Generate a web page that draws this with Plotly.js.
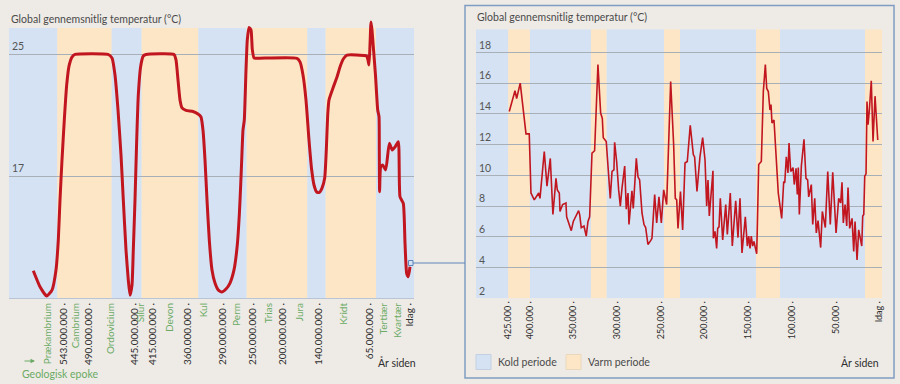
<!DOCTYPE html>
<html>
<head>
<meta charset="utf-8">
<script src="https://cdn.plot.ly/plotly-3.0.1.min.js"></script>
<style>
html,body{margin:0;padding:0;background:#EEEBE6;}
#chart{width:900px;height:384px;}
</style>
</head>
<body>
<div id="chart"></div>
<script>
// ---------- LEFT PANEL: geological time (ordinal position along axis) ----------
const leftPos = [33.3,40,46.7,52,56,58.3,60,62,64.3,66.7,69,72,75,108,112,115,118,121,123.3,126,128.3,130,132,133.3,135,136.7,138.3,140.7,143.3,146,174,176,178,180,182,186,193,198,201,203,205,207,209.3,212,215,218.3,221.7,226,230,234,237.3,239.3,240.7,241.7,243,244.3,246,247.3,249,251,252.3,254,256,297,300,303,306,309,311.7,314,316.7,319.3,322,324.7,326.3,327.7,329,333,337,340,343.3,347,364,366.7,368,369,370,371,372,373.3,375.5,377.7,379,379.3,379.6,380.7,382.7,385.7,389.3,392.3,395,398.3,400,403.3,405,406.7,408.3,410];
const leftTemp = [10.79,9.74,9.13,9.52,10.84,12.8,15.43,18.05,20.67,22.97,24.2,24.8,24.97,24.97,24.74,23.62,21.33,18.38,15.43,12.15,10.18,9.18,9.85,12.15,15.43,19.36,22.3,24.2,24.87,24.97,24.97,24.61,23.3,21.98,21.46,21.3,21.23,21.07,20.87,20.0,18.05,15.43,12.8,10.84,9.98,9.52,9.39,9.59,9.98,10.84,12.48,14.44,16.41,18.05,20.02,20.67,23.95,25.92,26.74,26.57,25.3,24.74,24.72,24.72,24.48,23.62,21.98,19.36,17.39,16.41,15.95,15.92,16.21,16.87,18.7,21.0,21.98,22.77,23.49,24.15,24.67,24.93,24.9,24.87,24.6,24.28,25.6,27.1,26.57,25.48,23.6,21.33,20.9,18.7,15.97,17.6,17.72,17.4,19.14,18.7,18.9,19.25,15.64,15.2,12.6,10.6,10.4,11.05];

const leftTickPos = [47.7,63.3,76,88.3,111,134.3,140.7,152.7,169.3,187.3,204,222.7,236.7,252.7,268.3,282.7,300,318.3,343.3,370,384,397.7,410];
const leftTickText = ["Prækambrium","543.000.000","Cambrium","490.000.000","Ordovicium","445.000.000","Silur","415.000.000","Devon","360.000.000","Kul","290.000.000","Perm","250.000.000","Trias","200.000.000","Jura","140.000.000","Kridt","65.000.000","Tertiær","Kvartær","Idag"];
const leftTickIsEpoch = [1,0,1,0,1,0,1,0,1,0,1,0,1,0,1,0,1,0,1,0,1,1,0];
const leftYTicks = [17,25];

// period bands: start, end, kind (c = cold, w = warm)
const leftBandStart = [9,57.3,111.7,141.7,198.3,246.7,307.3,325.7,376];
const leftBandEnd   = [57.3,111.7,141.7,198.3,246.7,307.3,325.7,376,414];
const leftBandKind  = ["c","w","c","w","c","w","c","w","c"];

// ---------- RIGHT PANEL: last 425,000 years ----------
const rightYears = [423355,416800,414900,410800,404200,400500,398500,394750,389700,388200,383300,380200,376400,373400,369900,368400,366100,365300,362300,358500,357700,352400,350100,344000,342800,341000,337900,335300,333300,331400,328700,325700,321900,318800,316900,315800,312400,309600,307800,305800,303600,302800,300500,298200,296300,294400,291300,289500,287500,286400,284400,283000,281500,278000,276100,274200,271500,269200,267300,264700,261600,260100,257000,254700,252100,249400,246700,243300,238700,235300,233400,231800,230300,227500,225000,222300,219700,216300,212800,211300,208600,205200,202100,199400,197500,196000,194500,192900,190300,189900,188000,186100,184900,183400,181900,179200,175700,173900,170500,168200,164300,161700,159400,157100,153300,151000,149400,147900,146500,144900,143400,141900,140300,139600,138000,135000,132700,130400,128800,127000,125100,123900,122800,120500,117400,115600,111700,109400,108200,106400,104500,103300,101400,98700,97300,95300,93800,92700,91500,89200,86200,83900,82000,80800,77800,76200,73900,72100,70100,67100,65200,61800,59000,56100,53300,49500,46500,44200,42700,41200,39200,37300,35800,33900,31200,29300,27800,25500,23600,21300,20100,19000,17800,16700,15200,14100,12900,11400,9200,7200,4900,1800];
const rightTemp = [14.15,15.5,15.0,16.0,12.7,12.7,8.85,8.4,8.85,8.5,11.55,9.3,11.1,7.45,9.8,9.05,8.85,7.65,8.1,8.2,7.3,6.4,7.0,7.7,7.45,6.6,6.7,6.05,7.0,7.3,11.45,11.6,17.2,14.05,13.7,12.45,12.2,10.15,8.5,10.25,10.35,12.15,10.9,9.05,8.0,9.15,10.6,7.8,8.85,6.8,8.3,9.0,7.85,11.1,9.9,9.7,7.55,6.8,6.6,5.5,5.75,5.9,8.75,6.9,8.6,6.9,9.05,8.1,16.1,12.0,8.5,8.4,6.55,8.95,6.45,10.8,10.9,13.25,11.35,11.2,8.95,11.2,12.45,11.0,8.0,9.7,7.35,8.5,10.3,5.9,6.35,5.25,6.55,6.65,8.5,5.8,8.1,6.15,8.85,5.4,8.35,5.95,8.5,4.95,7.3,5.4,6.05,5.25,6.05,5.4,5.7,5.3,4.9,6.55,10.7,10.9,15.45,17.2,15.65,15.45,14.25,14.6,13.4,13.6,10.35,8.85,7.2,9.6,9.5,11.2,10.15,12.1,10.25,10.5,9.4,10.45,8.75,10.5,7.45,10.6,12.35,9.8,9.7,8.6,9.4,6.8,8.5,6.25,7.05,5.3,7.65,6.6,10.25,6.8,10.2,6.25,8.5,8.2,9.55,6.9,8.1,6.7,9.2,6.55,7.2,5.05,7.0,4.5,6.45,5.7,5.4,7.35,7.45,9.95,10.1,14.8,13.3,14.25,16.15,12.2,15.15,12.3];

const rightTickVals = [425000,400000,350000,300000,250000,200000,150000,100000,50000,0];
const rightTickText = ["425.000","400.000","350.000","300.000","250.000","200.000","150.000","100.000","50.000","Idag"];
const rightYTicks = [2,4,6,8,10,12,14,16,18];

const rightBandStart = [461400,424500,399700,329900,311900,246300,228000,141100,113600,16400];
const rightBandEnd   = [424500,399700,329900,311900,246300,228000,141100,113600,16400,-3400];
const rightBandKind  = ["c","w","c","w","c","w","c","w","c","w"];

// ---------- styling ----------
const BG = "#EEEBE6", COLD = "#D4E2F3", WARM = "#FDE6C6", RED = "#C1161F";
const GRID = "#A9AFB7", TXT = "#3E3E3E", GREEN = "#6AAA64", FRAME = "#7F9DC2";
const FONT = "Lato, 'Open Sans', sans-serif";
const px = v => v / 900, py = v => 1 - v / 384;

const shapes = [];
leftBandStart.forEach((s, i) => shapes.push({type:"rect", xref:"x", yref:"y", x0:s, x1:leftBandEnd[i], y0:9, y1:26.7,
  fillcolor: leftBandKind[i] === "c" ? COLD : WARM, line:{width:0}, layer:"below"}));
rightBandStart.forEach((s, i) => shapes.push({type:"rect", xref:"x2", yref:"y2", x0:s, x1:rightBandEnd[i], y0:2, y1:19.5,
  fillcolor: rightBandKind[i] === "c" ? COLD : WARM, line:{width:0}, layer:"below"}));
// detail frame, connector, marker
shapes.push({type:"rect", xref:"paper", yref:"paper", x0:px(465), x1:px(894), y0:py(378), y1:py(5.5), line:{color:FRAME, width:1.5}, fillcolor:"rgba(0,0,0,0)"});
shapes.push({type:"line", xref:"paper", yref:"paper", x0:px(413), x1:px(465), y0:py(263), y1:py(263), line:{color:"#5E86B9", width:1}});
shapes.push({type:"rect", xref:"paper", yref:"paper", x0:px(408.5), x1:px(413), y0:py(265.5), y1:py(260.5), line:{color:"#5E86B9", width:1}, fillcolor:"rgba(0,0,0,0)"});
// legend swatches
shapes.push({type:"rect", xref:"paper", yref:"paper", x0:px(476), x1:px(491), y0:py(369.5), y1:py(354.5), fillcolor:COLD, line:{color:"#C3D0E2", width:1}});
shapes.push({type:"rect", xref:"paper", yref:"paper", x0:px(566), x1:px(581), y0:py(369.5), y1:py(354.5), fillcolor:WARM, line:{color:"#EAD8BC", width:1}});

const ann = (text, x, y, xanchor, color, size) => ({text, xref:"paper", yref:"paper", x:px(x), y:py(y), xanchor, yanchor:"middle",
  showarrow:false, font:{family:FONT, size:size || 10.5, color:color || TXT}});
const annotations = [
  ann("Global gennemsnitlig temperatur (°C)", 9, 19, "left", "#4A4A4A"),
  ann("Global gennemsnitlig temperatur (°C)", 475, 17.5, "left", "#4A4A4A"),
  ann("År siden", 418, 362, "right", "#2E2E2E"),
  ann("År siden", 881, 362, "right", "#2E2E2E"),
  ann("Geologisk epoke", 20, 374, "left", GREEN),
  ann("Kold periode", 496, 362, "left", "#4A4A4A"),
  ann("Varm periode", 586, 362, "left", "#4A4A4A"),
  {text:"", xref:"paper", yref:"paper", x:px(35), y:py(361), ax:-12, ay:0, showarrow:true, arrowhead:2, arrowsize:0.9, arrowwidth:1, arrowcolor:GREEN}
];

const leftTicks = leftTickText.map((t, i) => leftTickIsEpoch[i] ? '<span style="color:' + GREEN + '">' + t + '</span>' : t + ' ·');
const rightTicks = rightTickText.map(t => t + ' ·');

const traces = [
  {x:leftPos, y:leftTemp, xaxis:"x", yaxis:"y", type:"scatter", mode:"lines",
   line:{color:RED, width:3, shape:"spline", smoothing:0.5}, hoverinfo:"skip"},
  {x:rightYears, y:rightTemp, xaxis:"x2", yaxis:"y2", type:"scatter", mode:"lines",
   line:{color:RED, width:1.6}, hoverinfo:"skip"}
];

const layout = {
  width:900, height:384, margin:{l:0, r:0, t:0, b:0},
  paper_bgcolor:BG, plot_bgcolor:"rgba(0,0,0,0)", showlegend:false,
  font:{family:FONT, color:TXT},
  xaxis:{domain:[px(9), px(414)], range:[9, 414], anchor:"y", tickvals:leftTickPos, ticktext:leftTicks,
    tickangle:-90, ticks:"", tickfont:{size:10, color:"#2E2E2E"}, showgrid:false, zeroline:false,
    showline:true, linecolor:"#B9C5D4", linewidth:1, fixedrange:true},
  yaxis:{domain:[py(298), py(17.4)], range:[9, 27.4], anchor:"x", tickvals:leftYTicks, ticktext:leftYTicks.map(String),
    ticklabelposition:"inside top", ticks:"", tickfont:{size:10.5, color:"#555"}, showgrid:true, gridcolor:GRID, gridwidth:1,
    zeroline:false, showline:false, fixedrange:true},
  xaxis2:{domain:[px(476), px(882.3)], range:[461400, -3400], anchor:"y2", tickvals:rightTickVals, ticktext:rightTicks,
    tickangle:-90, ticks:"", tickfont:{size:9, color:"#2E2E2E"}, showgrid:false, zeroline:false, showline:false, fixedrange:true},
  yaxis2:{domain:[py(298.3), py(29.3)], range:[2, 19.5], anchor:"x2", tickvals:rightYTicks, ticktext:rightYTicks.map(String),
    ticklabelposition:"inside top", ticks:"", tickfont:{size:10.5, color:"#555"}, showgrid:true, gridcolor:GRID, gridwidth:1,
    zeroline:false, showline:false, fixedrange:true},
  shapes, annotations
};

Plotly.newPlot("chart", traces, layout, {staticPlot:true, displayModeBar:false});
</script>
</body>
</html>
